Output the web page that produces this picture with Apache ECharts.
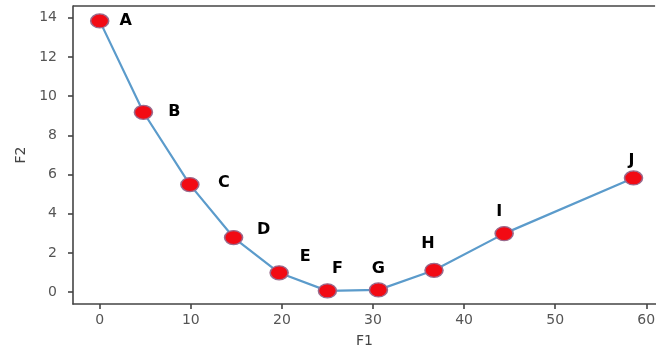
<!DOCTYPE html>
<html>
<head>
<meta charset="utf-8">
<script src="https://cdn.jsdelivr.net/npm/echarts@6/dist/echarts.min.js"></script>
<style>
html,body{margin:0;padding:0;background:#fff;overflow:hidden;}
#chart{width:656px;height:349px;}
</style>
</head>
<body>
<div id="chart"></div>
<script>
const pointNames = ['A','B','C','D','E','F','G','H','I','J'];
const f1Values = [0, 4.8, 9.9, 14.7, 19.7, 25.0, 30.6, 36.7, 44.4, 58.6];
const f2Values = [13.84, 9.18, 5.49, 2.79, 0.99, 0.07, 0.12, 1.12, 2.99, 5.83];
const xTicks = [0, 10, 20, 30, 40, 50, 60];
const yTicks = [0, 2, 4, 6, 8, 10, 12, 14];
const xAxisMin = -2.93, xAxisMax = 61.07;
const yAxisMin = -0.6, yAxisMax = 14.6;

// label offsets (styling only)
const labelOffsets = [[26,0],[31,0],[34,-2],[30,-8],[26,-16],[10,-22],[0,-21],[-6,-26],[-5,-22],[-2,-17]];

const data = f1Values.map((x, i) => ({
  value: [x, f2Values[i]],
  name: pointNames[i],
  label: { offset: labelOffsets[i] }
}));

const chart = echarts.init(document.getElementById('chart'), null, {renderer: 'canvas'});
const axisFont = 'DejaVu Sans';
const spine = { color: '#444', width: 1.6 };
chart.setOption({
  animation: false,
  backgroundColor: '#fff',
  grid: { left: 73, top: 6, width: 583, height: 298, show: false, outerBoundsMode: 'none', containLabel: false },
  xAxis: [{
    type: 'value', min: xAxisMin, max: xAxisMax,
    name: 'F1', nameLocation: 'middle', nameGap: 30,
    nameTextStyle: { color: '#444', fontFamily: axisFont, fontSize: 14 },
    axisLine: { show: true, onZero: false, lineStyle: spine },
    axisTick: { show: true, length: 5, customValues: xTicks, lineStyle: spine },
    axisLabel: { customValues: xTicks, color: '#555', fontFamily: axisFont, fontSize: 14, margin: 9 },
    splitLine: { show: false }
  }],
  yAxis: {
    type: 'value', min: yAxisMin, max: yAxisMax,
    name: 'F2', nameLocation: 'middle', nameGap: 45, nameRotate: 90,
    nameTextStyle: { color: '#444', fontFamily: axisFont, fontSize: 14 },
    axisLine: { show: true, onZero: false, lineStyle: spine },
    axisTick: { show: true, length: 5, customValues: yTicks, lineStyle: spine },
    axisLabel: { customValues: yTicks, color: '#555', fontFamily: axisFont, fontSize: 14, margin: 16 },
    splitLine: { show: false }
  },
  series: [{
    type: 'line',
    xAxisIndex: 0,
    data: data,
    lineStyle: { color: '#5b9bcb', width: 2.2 },
    symbol: 'path://M0,10a10,10 0 1,0 20,0a10,10 0 1,0 -20,0z',
    symbolSize: [18, 14],
    itemStyle: { color: '#f20a14', borderColor: '#9a6a8c', borderWidth: 1.4 },
    label: {
      show: true, position: 'inside',
      formatter: p => p.name,
      color: '#000', fontWeight: 'bold', fontSize: 16, fontFamily: axisFont
    },
    markLine: {
      silent: true, symbol: 'none', animation: false,
      label: { show: false },
      lineStyle: { color: '#444', width: 1.6, type: 'solid' },
      emphasis: { disabled: true },
      data: [[{ coord: [xAxisMin, yAxisMax] }, { coord: [xAxisMax - 0.1, yAxisMax] }]]
    },
    z: 3
  }]
});
</script>
</body>
</html>
